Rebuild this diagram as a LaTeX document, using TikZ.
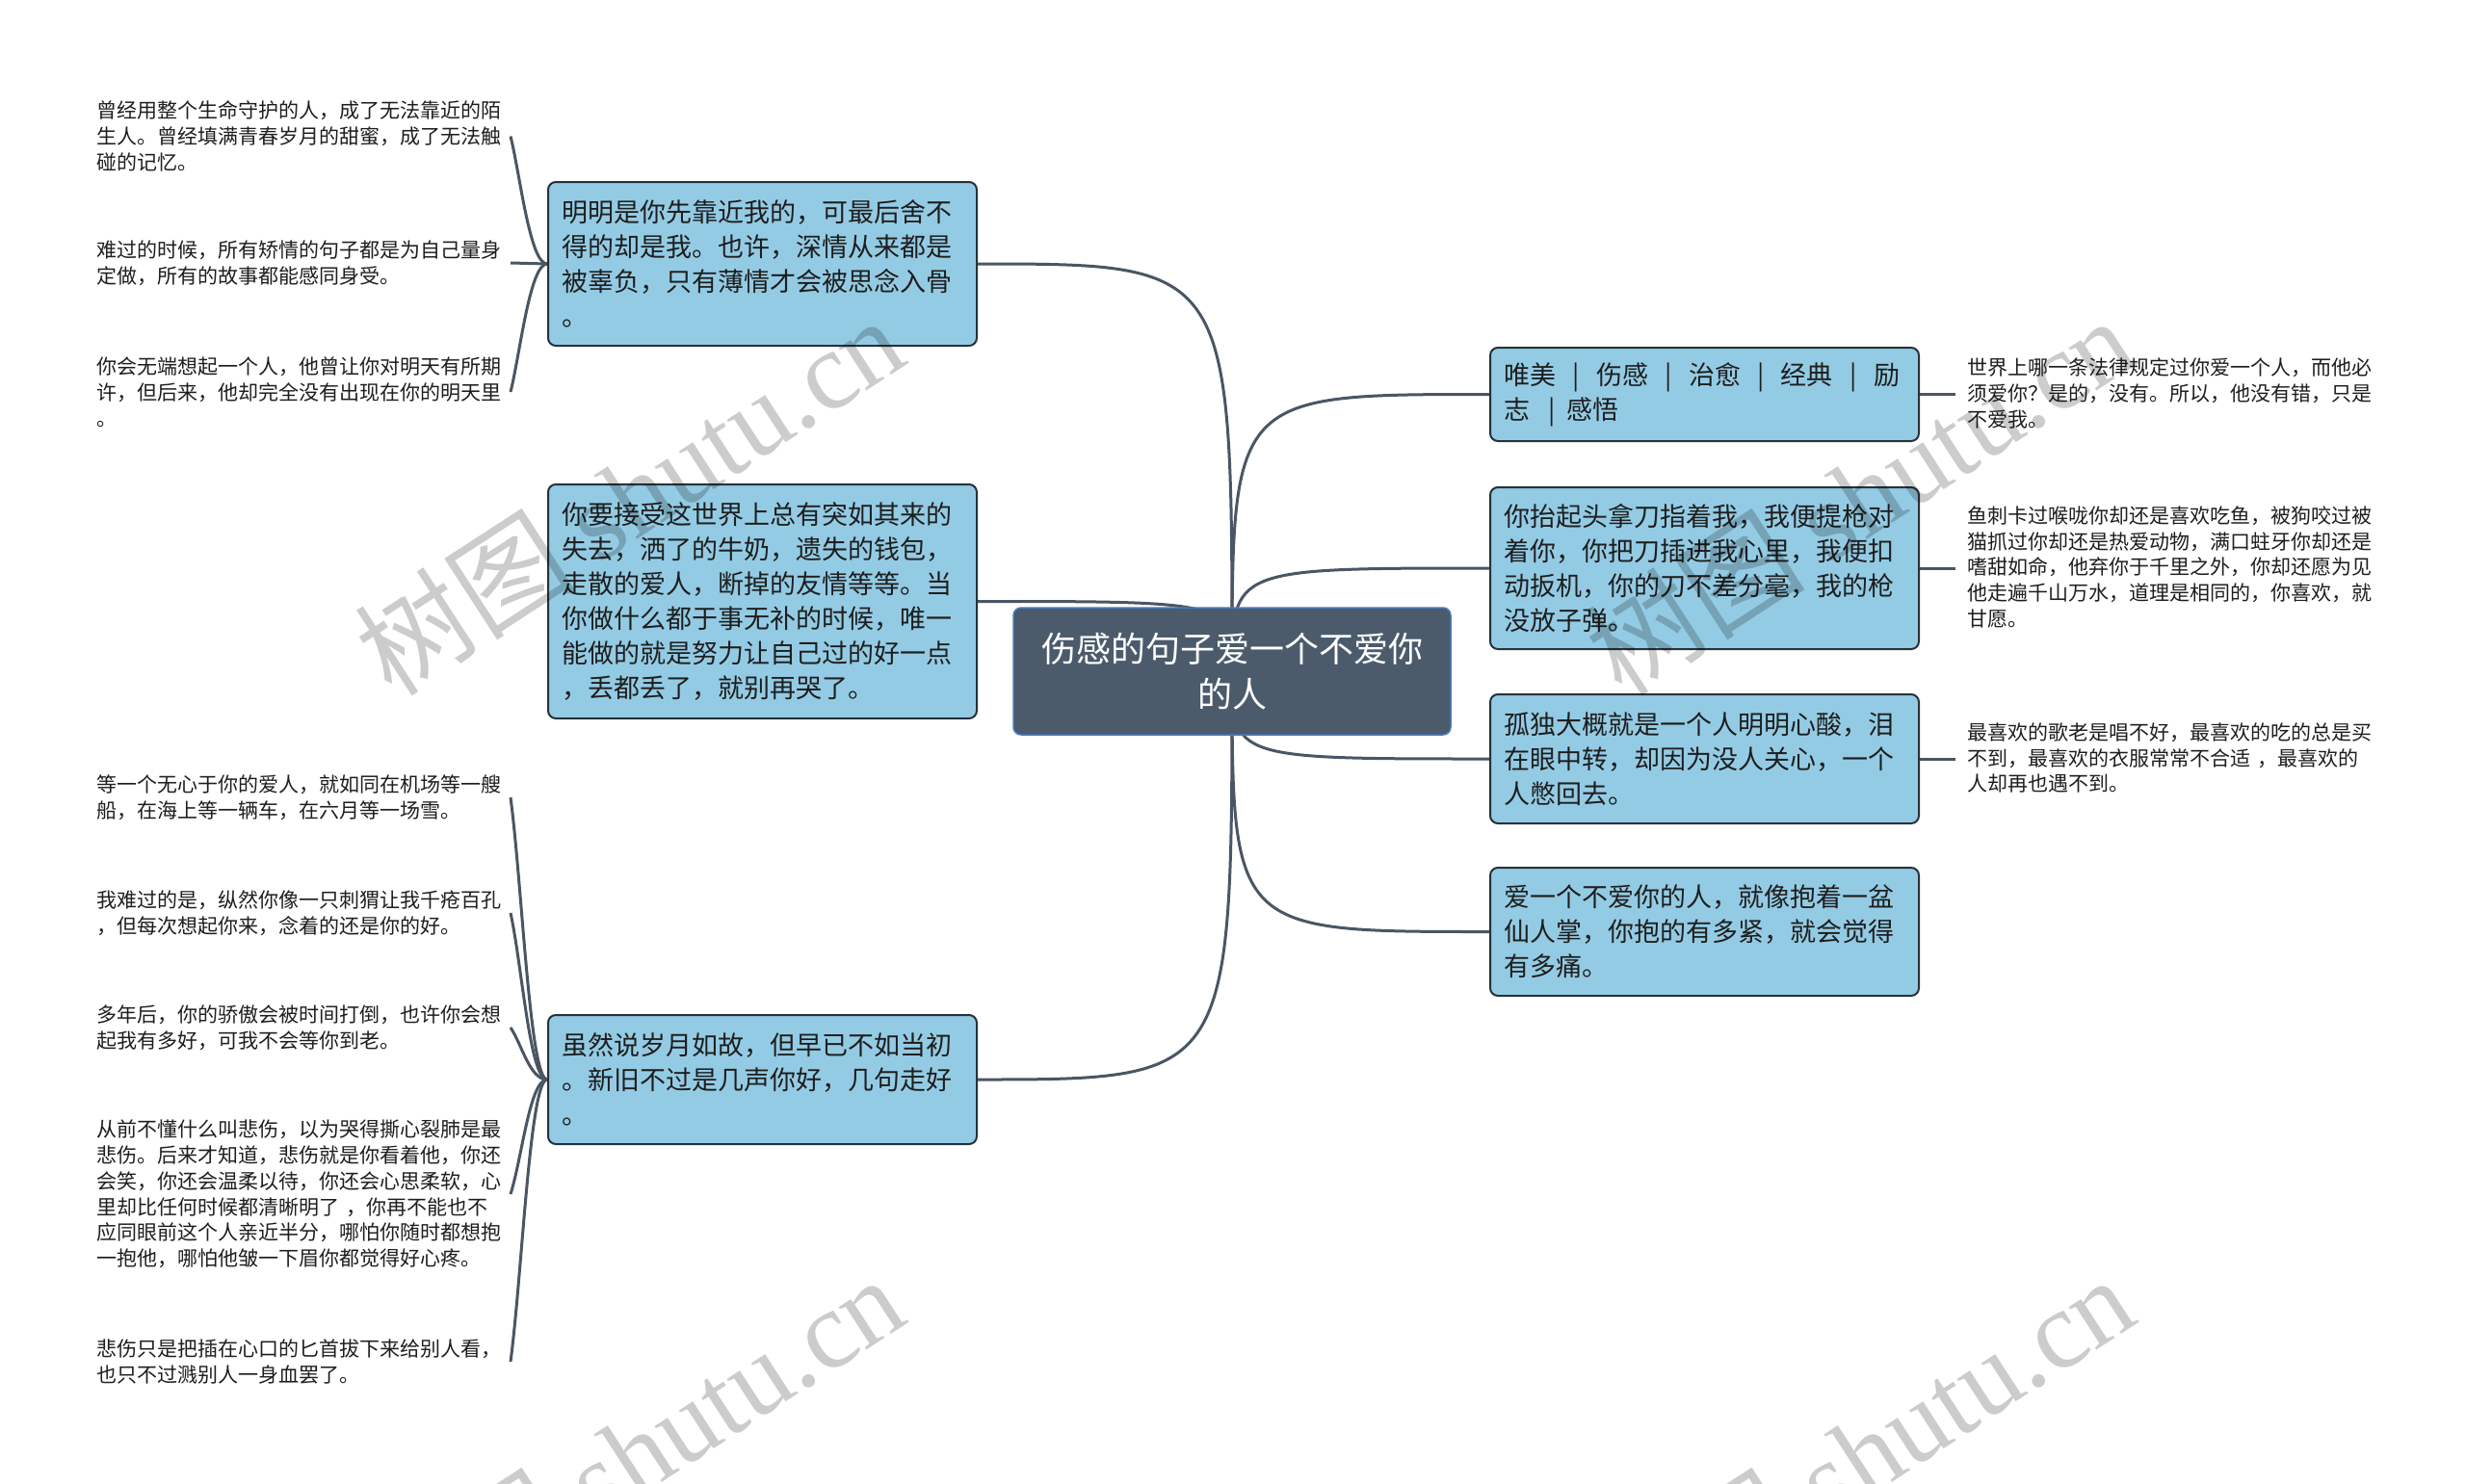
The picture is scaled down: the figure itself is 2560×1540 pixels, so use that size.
\documentclass[tikz,border=0pt]{standalone}
\usepackage{fontspec}
\setmainfont{Noto Sans CJK SC}
\newfontfamily\wmserif{Liberation Serif}
\usetikzlibrary{backgrounds,calc}
\definecolor{boxfill}{RGB}{148,203,228}
\definecolor{boxline}{RGB}{38,50,60}
\definecolor{linkc}{RGB}{74,86,100}
\definecolor{ctrfill}{RGB}{75,91,107}
\definecolor{ctrline}{RGB}{72,122,190}
\definecolor{txt}{RGB}{30,30,30}
\begin{document}
\begin{tikzpicture}[x=1pt,y=-1pt,
  topicbox/.style={draw=boxline, line width=2pt, fill=boxfill, rounded corners=8pt,
    text width=417pt, inner xsep=14pt, inner ysep=2pt, align=left, anchor=north west,
    font=\fontsize{27}{36}\selectfont, text=txt},
  leafl/.style={text width=429pt, inner sep=0pt, align=left, anchor=east,
    font=\fontsize{21}{26.8}\selectfont, text=txt},
  leafr/.style={text width=430pt, inner xsep=12pt, inner ysep=0pt, align=left, anchor=west,
    font=\fontsize{21}{26.8}\selectfont, text=txt},
  link/.style={draw=linkc, line width=3pt},
  wm/.style={font=\fontsize{115}{115}\selectfont, text=black, opacity=0.2, rotate=33}
]
\useasboundingbox (0,0) rectangle (2560,1540);

% central topic
\node[draw=ctrline, line width=1.5pt, fill=ctrfill, rounded corners=8pt, text=white,
  minimum width=454pt, minimum height=132pt, align=center,
  font=\fontsize{36}{47}\selectfont] (ctr) at (1279,697) {伤感的句子爱一个不爱你\\的人};

% left topics
\node[topicbox, minimum height=170pt] (L1) at (568,188) {明明是你先靠近我的，可最后舍不\\得的却是我。也许，深情从来都是\\被辜负，只有薄情才会被思念入骨\\。};
\node[topicbox, minimum height=243pt] (L2) at (568,502) {你要接受这世界上总有突如其来的\\失去，洒了的牛奶，遗失的钱包，\\走散的爱人，断掉的友情等等。当\\你做什么都于事无补的时候，唯一\\能做的就是努力让自己过的好一点\\，丢都丢了，就别再哭了。};
\node[topicbox, minimum height=134pt] (L3) at (568,1053) {虽然说岁月如故，但早已不如当初\\。新旧不过是几声你好，几句走好\\。};

% right topics
\node[topicbox, minimum height=97pt] (R1) at (1546,360) {唯美\makebox[42pt]{|}伤感\makebox[42pt]{|}治愈\makebox[42pt]{|}经典\makebox[42pt]{|}励\\志\hspace{20pt}|\hspace{11pt}感悟};
\node[topicbox, minimum height=168pt] (R2) at (1546,505) {你抬起头拿刀指着我，我便提枪对\\着你，你把刀插进我心里，我便扣\\动扳机，你的刀不差分毫，我的枪\\没放子弹。};
\node[topicbox, minimum height=134pt] (R3) at (1546,720) {孤独大概就是一个人明明心酸，泪\\在眼中转，却因为没人关心，一个\\人憋回去。};
\node[topicbox, minimum height=133pt] (R4) at (1546,900) {爱一个不爱你的人，就像抱着一盆\\仙人掌，你抱的有多紧，就会觉得\\有多痛。};

% left leaves of L1
\node[leafl] (ll1) at (530,141.5) {曾经用整个生命守护的人，成了无法靠近的陌\\生人。曾经填满青春岁月的甜蜜，成了无法触\\碰的记忆。};
\node[leafl] (ll2) at (530,273) {难过的时候，所有矫情的句子都是为自己量身\\定做，所有的故事都能感同身受。};
\node[leafl] (ll3) at (530,407) {你会无端想起一个人，他曾让你对明天有所期\\许，但后来，他却完全没有出现在你的明天里\\。};

% left leaves of L3
\node[leafl] (lb1) at (530,828) {等一个无心于你的爱人，就如同在机场等一艘\\船，在海上等一辆车，在六月等一场雪。};
\node[leafl] (lb2) at (530,948) {我难过的是，纵然你像一只刺猬让我千疮百孔\\，但每次想起你来，念着的还是你的好。};
\node[leafl] (lb3) at (530,1067) {多年后，你的骄傲会被时间打倒，也许你会想\\起我有多好，可我不会等你到老。};
\node[leafl] (lb4) at (530,1240) {从前不懂什么叫悲伤，以为哭得撕心裂肺是最\\悲伤。后来才知道，悲伤就是你看着他，你还\\会笑，你还会温柔以待，你还会心思柔软，心\\里却比任何时候都清晰明了 ，你再不能也不\\应同眼前这个人亲近半分，哪怕你随时都想抱\\一抱他，哪怕他皱一下眉你都觉得好心疼。};
\node[leafl] (lb5) at (530,1414) {悲伤只是把插在心口的匕首拔下来给别人看，\\也只不过溅别人一身血罢了。};

% right leaves
\node[leafr] (rl1) at (2030,408.5) {世界上哪一条法律规定过你爱一个人，而他必\\须爱你？是的，没有。所以，他没有错，只是\\不爱我。};
\node[leafr] (rl2) at (2030,589) {鱼刺卡过喉咙你却还是喜欢吃鱼，被狗咬过被\\猫抓过你却还是热爱动物，满口蛀牙你却还是\\嗜甜如命，他弃你于千里之外，你却还愿为见\\他走遍千山万水，道理是相同的，你喜欢，就\\甘愿。};
\node[leafr] (rl3) at (2030,787) {最喜欢的歌老是唱不好，最喜欢的吃的总是买\\不到，最喜欢的衣服常常不合适 ，最喜欢的\\人却再也遇不到。};

\begin{scope}[on background layer]
\fill[white] (0,0) rectangle (2560,1540);
% centre to topics
\draw[link] (ctr.center) .. controls (ctr.center |- L1.east) .. (L1.east);
\draw[link] (ctr.center) .. controls (ctr.center |- L2.east) .. (L2.east);
\draw[link] (ctr.center) .. controls (ctr.center |- L3.east) .. (L3.east);
\draw[link] (ctr.center) .. controls (ctr.center |- R1.west) .. (R1.west);
\draw[link] (ctr.center) .. controls (ctr.center |- R2.west) .. (R2.west);
\draw[link] (ctr.center) .. controls (ctr.center |- R3.west) .. (R3.west);
\draw[link] (ctr.center) .. controls (ctr.center |- R4.west) .. (R4.west);
% L1 leaves
\draw[link] (L1.west) .. controls +(-18,0) and +(10,40) .. (ll1.east);
\draw[link] (L1.west) -- (ll2.east);
\draw[link] (L1.west) .. controls +(-18,0) and +(10,-40) .. (ll3.east);
% L3 leaves
\draw[link] (L3.west) .. controls +(-18,0) and +(12,90) .. (lb1.east);
\draw[link] (L3.west) .. controls +(-18,0) and +(12,55) .. (lb2.east);
\draw[link] (L3.west) .. controls +(-18,0) and +(12,18) .. (lb3.east);
\draw[link] (L3.west) .. controls +(-18,0) and +(12,-38) .. (lb4.east);
\draw[link] (L3.west) .. controls +(-18,0) and +(12,-90) .. (lb5.east);
% right leaves
\draw[link] (R1.east) -- (R1.east -| rl1.west);
\draw[link] (R2.east) -- (R2.east -| rl2.west);
\draw[link] (R3.east) -- (R3.east -| rl3.west);
\end{scope}

% watermarks
\begin{scope}
\clip (0,0) rectangle (2560,1540);
\node[wm] (wm1) at (653,514) {树图 {\wmserif shutu.cn}};
\node[wm] (wm2) at (1930,514) {树图 {\wmserif shutu.cn}};
\node[wm] (wm3) at (653,1510) {树图 {\wmserif shutu.cn}};
\node[wm] (wm4) at (1930,1510) {树图 {\wmserif shutu.cn}};
\end{scope}
\end{tikzpicture}
\end{document}
